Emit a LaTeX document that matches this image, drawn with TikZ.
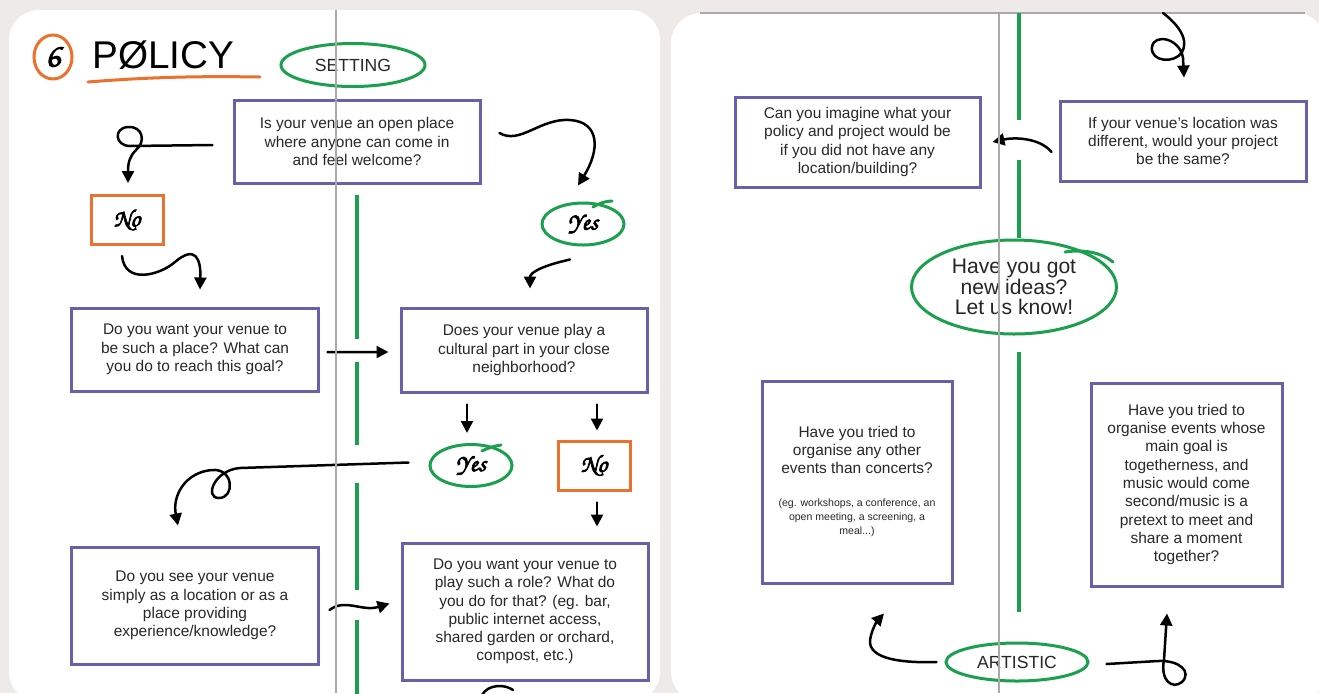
\documentclass[tikz,border=0pt]{standalone}
\usepackage{fontspec}
\setmainfont{Liberation Sans}
\newfontfamily\handfont[FakeBold=3]{texgyrechorus-mediumitalic.otf}
\usetikzlibrary{shapes.geometric,arrows.meta}
\definecolor{boxpurple}{RGB}{104,96,170}
\definecolor{penorange}{RGB}{234,114,46}
\definecolor{pengreen}{RGB}{28,160,78}
\definecolor{deskgrey}{RGB}{237,234,231}
\definecolor{foldgrey}{RGB}{170,170,170}
\definecolor{inkgrey}{RGB}{40,40,40}

\begin{document}
\begin{tikzpicture}[x=0.2mm, y=-0.2mm,
    qnode/.style={draw=boxpurple,line width=0.6mm,fill=white,rectangle,align=center,text=inkgrey,
      font=\fontsize{8.8}{10.4}\selectfont,inner sep=2pt},
    nonode/.style={draw=penorange,line width=0.6mm,fill=white,rectangle,
      minimum width=14.4mm,minimum height=9.8mm,font=\handfont\fontsize{14}{14}\selectfont},
    yesnode/.style={draw=pengreen,line width=0.6mm,ellipse,minimum width=16.4mm,
      minimum height=8.4mm,inner sep=0pt,font=\handfont\fontsize{14}{14}\selectfont},
    tagnode/.style={draw=pengreen,line width=0.6mm,ellipse,inner sep=0pt,align=center,
      font=\fontsize{10}{12}\selectfont,text=inkgrey},
    hand/.style={line width=0.5mm,line cap=round,-{Triangle[length=2.4mm,width=2.4mm]}},
    fold/.style={draw=foldgrey,line width=0.3mm},
    divider/.style={draw=pengreen,line width=0.8mm}
  ]
  \useasboundingbox (0,0) rectangle (1319,693);
  % desk and the two pages
  \fill[deskgrey] (0,0) rectangle (1319,693);
  \fill[white,rounded corners=6mm] (9,10) rectangle (660,702);
  \fill[white,rounded corners=6mm] (671,13) rectangle (1326,702);
  \draw[foldgrey,line width=0.4mm] (700,13) -- (1305,13);

  % green dividers
  \foreach \a/\b in {195/339,362/445,483/590,620/700}
    \draw[divider] (357,\a) -- (357,\b);
  \foreach \a/\b in {13/120,160/238,352/612}
    \draw[divider] (1019,\a) -- (1019,\b);

  % title
  \node[ellipse,draw=penorange,line width=0.6mm,minimum width=7.6mm,minimum height=8.8mm,inner sep=0pt,
    font=\handfont\fontsize{19}{19}\selectfont] (num) at (53,57) {6};
  \node[anchor=base west,inner sep=0pt,font=\fontsize{22}{22}\selectfont] (title) at (92,68) {PØLICY};
  \draw[penorange,line width=0.6mm,line cap=round] (88,82) .. controls (150,77) and (200,76) .. (260,77);
  \node[tagnode,minimum width=28.8mm,minimum height=8.6mm] (setting) at (353,65) {SETTING};

  % left page
  \node[qnode,minimum width=49.2mm,minimum height=16.6mm] (open) at (357,141.5)
    {Is your venue an open place\\where anyone can come in\\and feel welcome?};
  \node[nonode] (noA) at (127,220) {No};
  \node[yesnode] (yesA) at (583,224) {Yes};
  \node[qnode,minimum width=49.2mm,minimum height=16.6mm] (become) at (195,349.5)
    {Do you want your venue to\\be such a place? What can\\you do to reach this goal?};
  \node[qnode,minimum width=49.2mm,minimum height=16.8mm] (cultural) at (524,350)
    {Does your venue play a\\cultural part in your close\\neighborhood?};
  \node[yesnode] (yesB) at (471,465.5) {Yes};
  \node[nonode] (noB) at (594,465.5) {No};
  \node[qnode,minimum width=49.2mm,minimum height=23.4mm] (locate) at (195,605.5)
    {Do you see your venue\\simply as a location or as a\\place providing\\experience/knowledge?};
  \node[qnode,minimum width=49.2mm,minimum height=27.4mm] (role) at (525,611.5)
    {Do you want your venue to\\play such a role? What do\\you do for that? (eg. bar,\\public internet access,\\shared garden or orchard,\\compost, etc.)};

  % overshooting pen strokes
  \draw[pengreen,line width=0.6mm,line cap=round] (593,207) .. controls (600,203) and (606,201) .. (612,201);
  \draw[pengreen,line width=0.6mm,line cap=round] (482,451) .. controls (488,448) and (494,446) .. (501,445);

  \draw[hand] ([shift={(-20,3.5)}]open.west) -- (130,146)
    .. controls (115,146) and (113,128) .. (128,127)
    .. controls (143,126) and (146,142) .. (136,150)
    .. controls (130,156) and (128,162) .. ([shift={(1,-11)}]noA.north);
  \draw[hand] ([shift={(18,-8.5)}]open.east) .. controls (520,145) and (540,118) .. (570,120)
    .. controls (600,122) and (600,150) .. ([shift={(-5,-16)}]yesA.north);
  \draw[hand] ([shift={(-5,10)}]noA.south) .. controls (125,285) and (160,275) .. (175,262)
    .. controls (195,245) and (201,258) .. ([shift={(5,-17)}]become.north);
  \draw[hand] ([shift={(-13,13)}]yesA.south) .. controls (545,265) and (530,272) .. ([shift={(6,-18)}]cultural.north);
  \draw[hand] ([shift={(8,2.5)}]become.east) -- ([shift={(-11,2)}]cultural.west);
  \draw[hand] ([shift={(-57,11)}]cultural.south) -- ([shift={(-4,-10)}]yesB.north);
  \draw[hand] ([shift={(73,11)}]cultural.south) -- ([shift={(3,-9)}]noB.north);
  \draw[hand] ([shift={(3,11)}]noB.south) -- ([shift={(72,-15)}]role.north);
  \draw[hand] ([shift={(-20,-3)}]yesB.west) -- (240,468)
    .. controls (214,470) and (204,498) .. (219,498)
    .. controls (235,498) and (234,468) .. (212,470)
    .. controls (186,472) and (172,495) .. ([shift={(-17,-20)}]locate.north);
  \draw[hand] ([shift={(10,4.5)}]locate.east) .. controls (345,598) and (362,612) .. ([shift={(-11,-8)}]role.west);
  \coordinate (tonext) at (482,695);
  \draw[line width=0.5mm,line cap=round] (tonext) .. controls (488,684) and (505,684) .. (513,690);

  % right page
  \node[qnode,minimum width=49mm,minimum height=18mm] (nobuilding) at (857.5,142)
    {Can you imagine what your\\policy and project would be\\if you did not have any\\location/building?};
  \node[qnode,minimum width=49.2mm,minimum height=16mm] (elsewhere) at (1183,141)
    {If your venue’s location was\\different, would your project\\be the same?};
  \node[tagnode,minimum width=41mm,minimum height=18.8mm,font=\fontsize{12}{11.8}\selectfont,text=black!85]
    (ideas) at (1014,287) {Have you got\\new ideas?\\Let us know!};
  \draw[pengreen,line width=0.6mm,line cap=round] (1065,252) .. controls (1085,249) and (1102,253) .. (1113,262);
  \node[qnode,minimum width=38mm,minimum height=40.4mm] (otherevents) at (857,482)
    {Have you tried to\\organise any other\\events than concerts?\\[3mm]
     {\fontsize{6}{7.7}\selectfont\begin{tabular}[t]{@{}c@{}}(eg. workshops, a conference, an\\open meeting, a screening, a\\meal...)\end{tabular}}};
  \node[qnode,minimum width=38.2mm,minimum height=40.6mm] (together) at (1186.5,484.5)
    {Have you tried to\\organise events whose\\main goal is\\togetherness, and\\music would come\\second/music is a\\pretext to meet and\\share a moment\\together?};
  \node[tagnode,minimum width=28.4mm,minimum height=7.6mm] (artistic) at (1017,662) {ARTISTIC};

  \coordinate (fromprev) at (1163,13);
  \draw[hand] (fromprev) .. controls (1175,22) and (1190,38) .. (1182,52)
    .. controls (1175,64) and (1150,62) .. (1152,47)
    .. controls (1154,33) and (1180,38) .. (1183,58) -- ([shift={(1,-22)}]elsewhere.north);
  \draw[hand] ([shift={(-7,11)}]elsewhere.west) .. controls (1040,138) and (1015,137) .. ([shift={(11,0)}]nobuilding.east);
  \draw[hand] ([shift={(-8,0)}]artistic.west) .. controls (905,663) and (868,660) .. (870,640)
    .. controls (872,628) and (878,620) .. ([shift={(27,29)}]otherevents.south);
  \draw[hand] ([shift={(17,2)}]artistic.east) -- (1158,661)
    .. controls (1180,660) and (1192,672) .. (1182,682)
    .. controls (1172,690) and (1160,680) .. (1164,660) -- ([shift={(-19.5,26)}]together.south);

  % page folds
  \draw[fold] (336,10) -- (336,693);
  \draw[fold] (999,13) -- (999,693);
\end{tikzpicture}
\end{document}
